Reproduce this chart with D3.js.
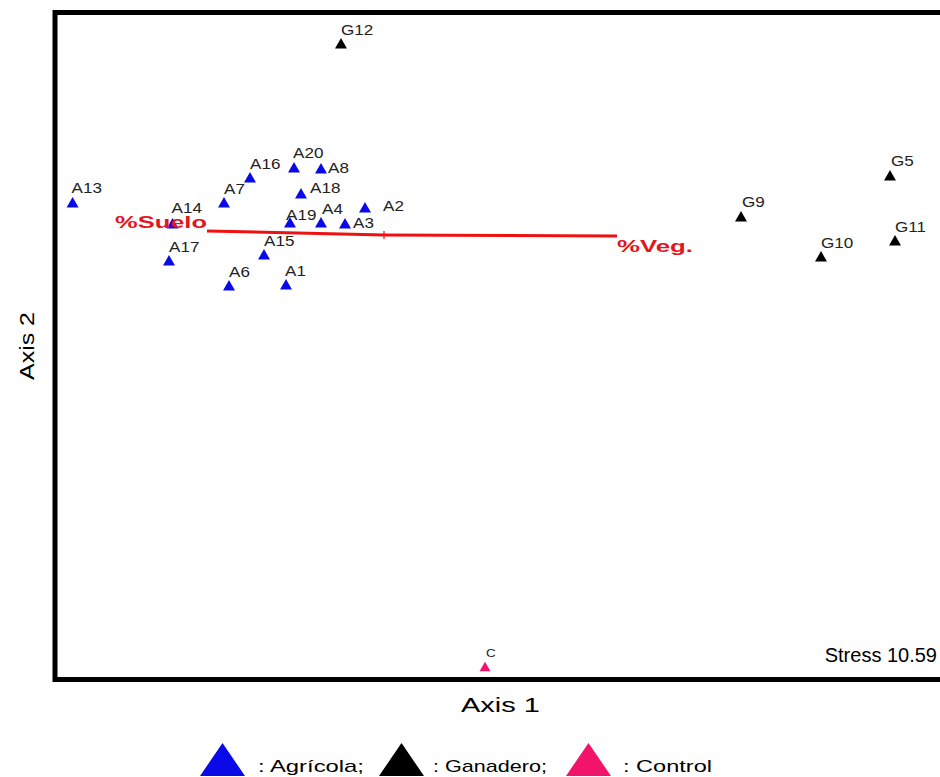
<!DOCTYPE html>
<html>
<head>
<meta charset="utf-8">
<script src="https://cdn.jsdelivr.net/npm/d3@7"></script>
<style>
  html, body { margin: 0; padding: 0; background: #fff; }
  svg { display: block; }
  text { font-family: Arial, "Liberation Sans", sans-serif; }
</style>
</head>
<body>
<svg id="chart" width="940" height="777"></svg>
<script>
// ---- Data (NMS ordination scores) ----
const sites  = ["G12","A13","A14","A7","A16","A20","A8","A18","A2","A19","A4","A3","A15","A17","A6","A1","G5","G9","G11","G10","C"];
const axis1  = [-0.215,-1.557,-1.057,-0.80,-0.67,-0.45,-0.315,-0.415,-0.095,-0.47,-0.315,-0.195,-0.60,-1.075,-0.775,-0.49,2.53,1.785,2.555,2.185,0.505];
const axis2  = [0.95,0.155,0.05,0.155,0.28,0.33,0.325,0.20,0.13,0.055,0.055,0.05,-0.105,-0.135,-0.26,-0.255,0.29,0.085,-0.035,-0.115,-2.165];
const groups = ["Ganadero","Agrícola","Agrícola","Agrícola","Agrícola","Agrícola","Agrícola","Agrícola","Agrícola","Agrícola","Agrícola","Agrícola","Agrícola","Agrícola","Agrícola","Agrícola","Ganadero","Ganadero","Ganadero","Ganadero","Control"];

const vectorNames = ["%Suelo","%Veg."];
const vectorX = [-0.885, 1.165];
const vectorY = [0.02, -0.005];

const legendGroups = ["Agrícola","Ganadero","Control"];
const legendLabels = [": Agrícola;", ": Ganadero;", ": Control"];
const stressLabel = "Stress 10.59";

// ---- Styles / layout ----
const colors = { "Agrícola": "#0a0ae8", "Ganadero": "#000000", "Control": "#f2136a" };
const labelOffset = {
  "A8": [7, 3], "A18": [9, -2], "A2": [18, 2], "A3": [8, 3], "A4": [1, -10],
  "A19": [-4, -4], "A13": [-1, -11], "A14": [-1, -12], "A20": [-1, -11],
  "A1": [-1, -10], "C": [1, -11], "G5": [1, -11], "G9": [1, -11]
};

const svg = d3.select("#chart");
const x = d3.scaleLinear().domain([-1.645, 2.805]).range([55, 945]);
const y = d3.scaleLinear().domain([-2.2225, 1.1125]).range([679.5, 12.5]);

// Frame
svg.append("rect")
  .attr("x", x.range()[0]).attr("y", y.range()[1])
  .attr("width", x.range()[1] - x.range()[0])
  .attr("height", y.range()[0] - y.range()[1])
  .attr("fill", "none").attr("stroke", "#000").attr("stroke-width", 5);

// Points
const tri = d3.symbol().type(d3.symbolTriangle).size(62);
const idx = d3.range(sites.length);
svg.append("g").selectAll("path").data(idx).join("path")
  .attr("d", i => sites[i] === "C" ? d3.symbol().type(d3.symbolTriangle).size(52)() : tri())
  .attr("transform", i => `translate(${x(axis1[i])},${y(axis2[i])})`)
  .attr("fill", i => colors[groups[i]]);

// Point labels
svg.append("g").selectAll("text").data(idx).join("text")
  .attr("transform", i => {
    const o = labelOffset[sites[i]] || [0, -10];
    return `translate(${x(axis1[i]) + o[0]},${y(axis2[i]) + o[1]}) scale(1.22,1)`;
  })
  .attr("font-size", i => sites[i] === "C" ? 11 : 14)
  .attr("fill", "#222")
  .text(i => sites[i]);

// Joint-plot vectors
const cx = x(0), cy = y(0);
svg.append("g").selectAll("line").data(d3.range(vectorNames.length)).join("line")
  .attr("x1", cx).attr("y1", cy)
  .attr("x2", i => x(vectorX[i])).attr("y2", i => y(vectorY[i]))
  .attr("stroke", "#ee1111").attr("stroke-width", 3);
svg.append("line").attr("x1", cx).attr("x2", cx).attr("y1", cy - 4).attr("y2", cy + 4)
  .attr("stroke", "#ee1111").attr("stroke-width", 1.2);
const vLen = [92, 76];
svg.append("g").selectAll("text").data(d3.range(vectorNames.length)).join("text")
  .attr("x", i => x(vectorX[i]))
  .attr("y", i => vectorX[i] < 0 ? y(vectorY[i]) - 3 : y(vectorY[i]) + 16)
  .attr("text-anchor", i => vectorX[i] < 0 ? "end" : "start")
  .attr("font-size", 17).attr("font-weight", "bold").attr("fill", "#e4151c")
  .attr("textLength", i => vLen[i]).attr("lengthAdjust", "spacingAndGlyphs")
  .text(i => vectorNames[i]);

// Stress
svg.append("text").attr("x", 937).attr("y", 662).attr("text-anchor", "end")
  .attr("font-size", 20).attr("fill", "#000").text(stressLabel);

// Axis titles
svg.append("text").attr("x", 461).attr("y", 712)
  .attr("font-size", 20).attr("textLength", 79).attr("lengthAdjust", "spacingAndGlyphs")
  .text("Axis 1");
svg.append("text").attr("transform", "translate(34,380) rotate(-90)")
  .attr("font-size", 20).attr("textLength", 68).attr("lengthAdjust", "spacingAndGlyphs")
  .text("Axis 2");

// Legend
const legTriX = [200, 379, 566];
const legTxtX = [258, 433, 623];
const legTxtLen = [106, 114, 89];
const lg = svg.append("g");
legendGroups.forEach((g, i) => {
  const x0 = legTriX[i], w = 45, top = 743, bot = 776;
  lg.append("path")
    .attr("d", `M${x0},${bot}L${x0 + w / 2},${top}L${x0 + w},${bot}Z`)
    .attr("fill", colors[g]);
  lg.append("text").attr("x", legTxtX[i]).attr("y", 772)
    .attr("font-size", 17).attr("fill", "#000")
    .attr("textLength", legTxtLen[i]).attr("lengthAdjust", "spacingAndGlyphs")
    .text(legendLabels[i]);
});
</script>
</body>
</html>
